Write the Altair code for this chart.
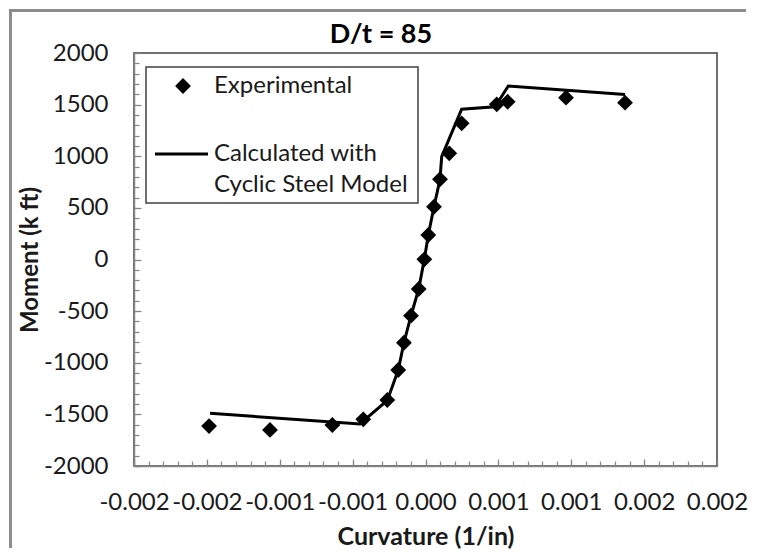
import altair as alt
import pandas as pd
import numpy as np

chart_title = "D/t = 85"
x_title = "Curvature (1/in)"
y_title = "Moment (k ft)"
legend_labels = ["Experimental", "Calculated with", "Cyclic Steel Model"]

x_ticks = [-0.002, -0.0015, -0.001, -0.0005, 0.0, 0.0005, 0.001, 0.0015, 0.002]
x_tick_labels = ["-0.002", "-0.002", "-0.001", "-0.001", "0.000", "0.001", "0.001", "0.002", "0.002"]
y_ticks = [-2000, -1500, -1000, -500, 0, 500, 1000, 1500, 2000]

exp_curv = [-0.001485, -0.001067, -0.000639, -0.000427, -0.000262, -0.000187, -0.000148,
            -0.0000995, -0.0000467, -0.000008, 0.0000192, 0.0000583, 0.0000995, 0.000163,
            0.000248, 0.000489, 0.000564, 0.000964, 0.001369]
exp_moment = [-1613, -1651, -1603, -1548, -1361, -1070, -806, -544, -286, 2, 237, 511, 777,
              1028, 1319, 1503, 1528, 1567, 1519]

calc_curv = [-0.001478, -0.000450, -0.000262, -0.000187, -0.000148, -0.0000995, -0.0000467,
             -0.000008, 0.0000192, 0.0000583, 0.0000995, 0.000111, 0.000248, 0.000477,
             0.000568, 0.001369]
calc_moment = [-1490, -1593, -1365, -1070, -806, -544, -286, 2, 237, 511, 777, 996, 1455,
               1480, 1680, 1598]

# minor tick positions (axis decoration)
x_minor = [round(v, 5) for v in np.arange(-0.002, 0.00201, 0.0001)]
y_minor = list(range(-2000, 2001, 100))

FONT = "Lato"
AX = "#868686"
TXT = "#1a1a1a"

exp_df = pd.DataFrame({"curv": exp_curv, "moment": exp_moment})
calc_df = pd.DataFrame({"curv": calc_curv, "moment": calc_moment,
                        "idx": list(range(len(calc_curv)))})

xscale = alt.Scale(domain=[x_ticks[0], x_ticks[-1]], nice=False, zero=False)
yscale = alt.Scale(domain=[y_ticks[0], y_ticks[-1]], nice=False, zero=False)

label_js = "[" + ",".join('"%s"' % s for s in x_tick_labels) + "]"

x_main = alt.Axis(values=x_ticks, orient="bottom", grid=False, ticks=False, tickSize=0,
                  domain=True, domainColor=AX, domainWidth=1.5,
                  labelExpr=label_js + "[round(datum.value/0.0005)+4]",
                  labelFont=FONT, labelFontSize=24, labelColor=TXT, labelPadding=24,
                  labelFlush=False, labelOverlap=False,
                  title=x_title, titleFont=FONT, titleFontSize=25, titleFontWeight="bold",
                  titleColor=TXT, titleX=291.5, titleY=78, titleBaseline="alphabetic",
                  titleAlign="center")
y_main = alt.Axis(values=y_ticks, orient="left", grid=False, ticks=False, tickSize=0,
                  domain=True, domainColor=AX, domainWidth=1.5,
                  labelExpr="'' + datum.value",
                  labelFont=FONT, labelFontSize=24, labelColor=TXT, labelPadding=26,
                  labelFlush=False, labelOverlap=False,
                  title=y_title, titleFont=FONT, titleFontSize=24, titleFontWeight="bold",
                  titleColor=TXT, titleX=-104, titleY=206.5, titleBaseline="middle",
                  titleAlign="center", titleAngle=270)

x_major_ticks = alt.Axis(values=x_ticks, orient="bottom", grid=False, labels=False,
                         domain=False, title=None, ticks=True, tickSize=7,
                         tickColor=AX, tickWidth=1.2, offset=-7)
y_major_ticks = alt.Axis(values=y_ticks, orient="left", grid=False, labels=False,
                         domain=False, title=None, ticks=True, tickSize=7,
                         tickColor=AX, tickWidth=1.2, offset=-7)
x_minor_ticks = alt.Axis(values=x_minor, orient="bottom", grid=False, labels=False,
                         domain=False, title=None, ticks=True, tickSize=5,
                         tickColor=AX, tickWidth=1.2, offset=-5)
y_minor_ticks = alt.Axis(values=y_minor, orient="left", grid=False, labels=False,
                         domain=False, title=None, ticks=True, tickSize=5,
                         tickColor=AX, tickWidth=1.2, offset=-5)

line = alt.Chart(calc_df).mark_line(color="black", strokeWidth=3).encode(
    x=alt.X("curv:Q", scale=xscale, axis=x_main),
    y=alt.Y("moment:Q", scale=yscale, axis=y_main),
    order="idx:Q",
)

points = alt.Chart(exp_df).mark_point(shape="diamond", filled=True, color="black",
                                      size=250, opacity=1).encode(
    x=alt.X("curv:Q", scale=xscale, axis=x_major_ticks),
    y=alt.Y("moment:Q", scale=yscale, axis=y_major_ticks),
)

minor = alt.Chart(exp_df).mark_point(opacity=0).encode(
    x=alt.X("curv:Q", scale=xscale, axis=x_minor_ticks),
    y=alt.Y("moment:Q", scale=yscale, axis=y_minor_ticks),
)

one = pd.DataFrame({"k": [0]})

# outer chart frame as thin filled bars, kept away from the canvas edges
frame_left = alt.Chart(one).mark_rect(fill="#8c8c8c", strokeWidth=0).encode(
    x=alt.value(-125), x2=alt.value(-122), y=alt.value(-44), y2=alt.value(495))
frame_top = alt.Chart(one).mark_rect(fill="#8c8c8c", strokeWidth=0).encode(
    x=alt.value(-125), x2=alt.value(612), y=alt.value(-44), y2=alt.value(-41))

# chart title as text
title_mark = alt.Chart(pd.DataFrame({"t": [chart_title]})).mark_text(
    align="center", baseline="alphabetic", font=FONT, fontSize=27, fontWeight="bold",
    color="black").encode(x=alt.value(247), y=alt.value(-10), text="t:N")

# legend
leg_box = alt.Chart(one).mark_rect(fill="white", stroke="#404040", strokeWidth=1.5).encode(
    x=alt.value(12), x2=alt.value(284), y=alt.value(14), y2=alt.value(150))
leg_diamond = alt.Chart(one).mark_point(shape="diamond", filled=True, color="black",
                                        size=250, opacity=1).encode(
    x=alt.value(49), y=alt.value(33))
leg_line = alt.Chart(one).mark_rule(color="black", strokeWidth=3).encode(
    x=alt.value(21), x2=alt.value(74), y=alt.value(101))
leg_texts = []
for lab, yy in zip(legend_labels, [33, 101, 132]):
    leg_texts.append(
        alt.Chart(pd.DataFrame({"label": [lab]})).mark_text(
            align="left", baseline="middle", font=FONT, fontSize=24, color=TXT
        ).encode(x=alt.value(80), y=alt.value(yy), text="label:N")
    )

chart = alt.layer(frame_left, frame_top, line, points, minor, title_mark,
                  leg_box, leg_diamond, leg_line, *leg_texts).resolve_axis(
    x="independent", y="independent"
).properties(
    width=583,
    height=413,
    padding={"left": 126, "top": 45, "right": 34, "bottom": 88},
    autosize=alt.AutoSizeParams(type="none"),
    background="white",
).configure_view(stroke="#404040", strokeWidth=1.5)

chart.save("out.html", embed_options={"renderer": "svg", "actions": False})
